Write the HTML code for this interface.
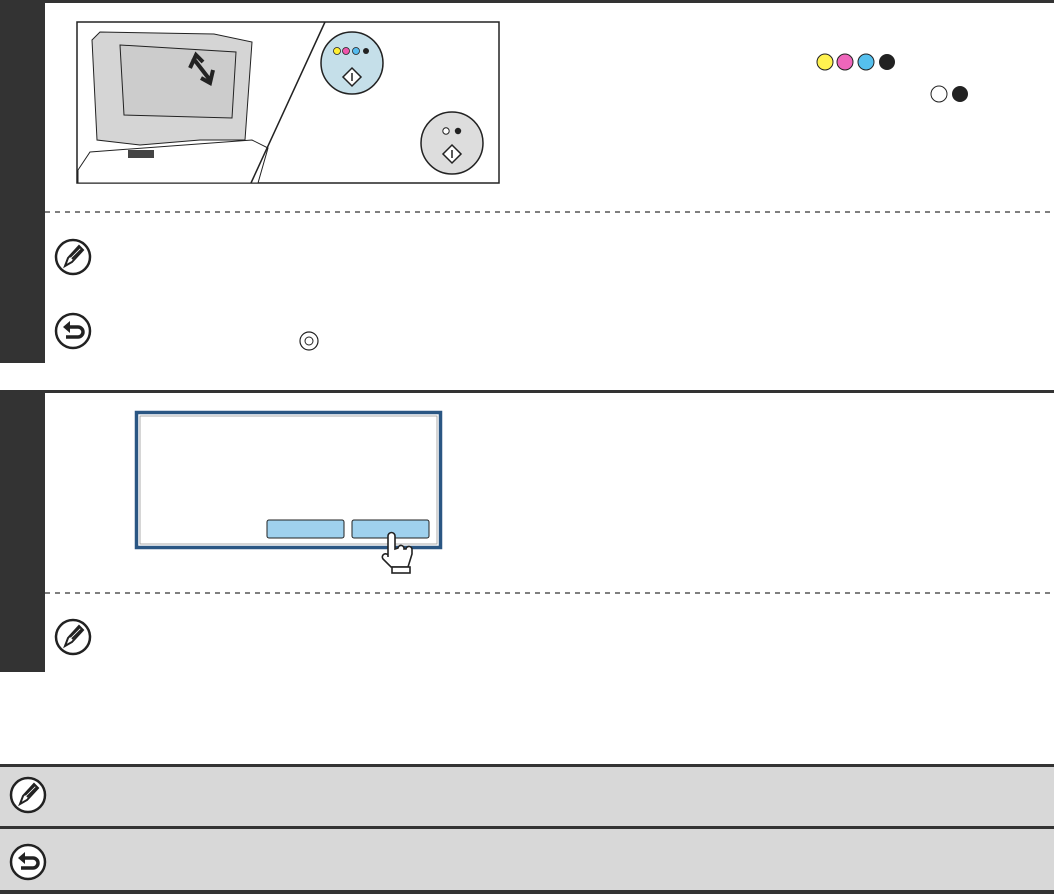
<!DOCTYPE html>
<html><head><style>
body{margin:0;width:1054px;height:894px;position:relative;background:#fff;overflow:hidden;font-family:"Liberation Sans",sans-serif}
.a{position:absolute}
</style></head><body>
<div class="a" style="left:0;top:0;width:1054px;height:3px;background:#333"></div>
<div class="a" style="left:0;top:0;width:45px;height:363px;background:#333"></div>
<div class="a" style="left:0;top:390px;width:1054px;height:3px;background:#333"></div>
<div class="a" style="left:0;top:390px;width:45px;height:282px;background:#333"></div>
<div class="a" style="left:0;top:764px;width:1054px;height:130px;background:#d8d8d8"></div>
<div class="a" style="left:0;top:764px;width:1054px;height:3px;background:#333"></div>
<div class="a" style="left:0;top:826px;width:1054px;height:3px;background:#333"></div>
<div class="a" style="left:0;top:890px;width:1054px;height:4px;background:#333"></div>
<svg class="a" style="left:0;top:0" width="1054" height="894">
<defs>
<g id="pen"><circle r="17" fill="#fff" stroke="#222" stroke-width="2.5"/><path d="M-8,9 L-5,1 L6,-11 L10,-7 L-1,5 Z" fill="#fff" stroke="#222" stroke-width="2"/><path d="M-3,0 L7,-10 M-1,2 L9,-8" stroke="#222" stroke-width="2"/></g>
<g id="back"><circle r="17" fill="#fff" stroke="#222" stroke-width="2.5"/><path d="M-4,-4 H5 A5,5 0 0 1 5,6 H-7" fill="none" stroke="#222" stroke-width="3.5"/><path d="M-10,-4 L-3,-10 L-3,2 Z" fill="#222"/></g>
</defs>
<line x1="45" y1="212" x2="1054" y2="212" stroke="#333" stroke-width="1.2" stroke-dasharray="5,5"/>
<line x1="45" y1="593" x2="1054" y2="593" stroke="#333" stroke-width="1.2" stroke-dasharray="5,5"/>
<rect x="77" y="22" width="422" height="161" fill="#fff" stroke="#222" stroke-width="1.5"/>
<path d="M92,40 L100,32 L214,34 L252,42 L245,140 L230,140 L200,140 L140,145 L97,140 Z" fill="#d5d5d5" stroke="#222"/>
<path d="M120,45 L236,52 L232,118 L124,115 Z" fill="#ccc" stroke="#222"/>
<path d="M90,152 L252,140 L268,148 L258,183 L78,183 L78,170 Z" fill="#fff" stroke="#222"/>
<rect x="128" y="150" width="26" height="8" fill="#444"/>
<path d="M193,58 L210,80 M190,68 L196,55 L203,62 M213,70 L210,83 L201,78" stroke="#222" stroke-width="4" fill="none"/>
<line x1="325" y1="22" x2="251" y2="183" stroke="#222" stroke-width="1.5"/>
<circle cx="352" cy="63" r="31" fill="#c5dfe9" stroke="#222" stroke-width="1.5"/>
<circle cx="337" cy="51" r="3.5" fill="#ffee33" stroke="#222" stroke-width=".8"/>
<circle cx="346" cy="51" r="3.5" fill="#ee55aa" stroke="#222" stroke-width=".8"/>
<circle cx="356" cy="51" r="3.5" fill="#55bbee" stroke="#222" stroke-width=".8"/>
<circle cx="366" cy="51" r="3" fill="#222"/>
<path d="M352,65 l9,9 -9,9 -9,-9 Z M352,70 v8" fill="#fff" stroke="#222" stroke-width="1.5" transform="translate(0,3)"/>
<circle cx="452" cy="143" r="31" fill="#ddd" stroke="#222" stroke-width="1.5"/>
<circle cx="446" cy="131" r="3.2" fill="#fff" stroke="#222"/>
<circle cx="458" cy="131" r="3.2" fill="#222"/>
<path d="M452,145 l9,9 -9,9 -9,-9 Z M452,150 v8" fill="#fff" stroke="#222" stroke-width="1.5"/>
<circle cx="825" cy="62" r="8" fill="#fff250" stroke="#222"/>
<circle cx="845" cy="62" r="8" fill="#ee66bb" stroke="#222"/>
<circle cx="866" cy="62" r="8" fill="#55c0ee" stroke="#222"/>
<circle cx="887" cy="62" r="8" fill="#222"/>
<circle cx="939" cy="94" r="8" fill="#fff" stroke="#222"/>
<circle cx="960" cy="94" r="8" fill="#222"/>
<use href="#pen" x="73" y="257"/>
<use href="#back" x="73" y="331"/>
<circle cx="309" cy="341" r="9" fill="#fff" stroke="#222" stroke-width="1.2"/>
<circle cx="309" cy="341" r="4" fill="none" stroke="#222"/>
<rect x="136.5" y="412.5" width="304" height="135" fill="#fff" stroke="#2a5683" stroke-width="3.5"/>
<rect x="140" y="416" width="297" height="128" fill="none" stroke="#999" stroke-width=".8"/>
<rect x="267" y="520" width="77" height="18" rx="2" fill="#9fd1ee" stroke="#222"/>
<rect x="352" y="520" width="77" height="18" rx="2" fill="#9fd1ee" stroke="#222"/>
<path d="M388,557 V536 a3.5,3.5 0 0 1 7,0 V549 l3,-1 a3,3 0 0 1 6,1 l2,0 a3,3 0 0 1 6,1 v4 l-4,13 h-17 l-8,-8 a3,3 0 0 1 5,-4 Z" fill="#fff" stroke="#222" stroke-width="1.6"/>
<rect x="392" y="567" width="18" height="6" fill="#fff" stroke="#222" stroke-width="1.6"/>
<use href="#pen" x="73" y="637"/>
<use href="#pen" x="28" y="795"/>
<use href="#back" x="28" y="862"/>
</svg>
</body></html>
